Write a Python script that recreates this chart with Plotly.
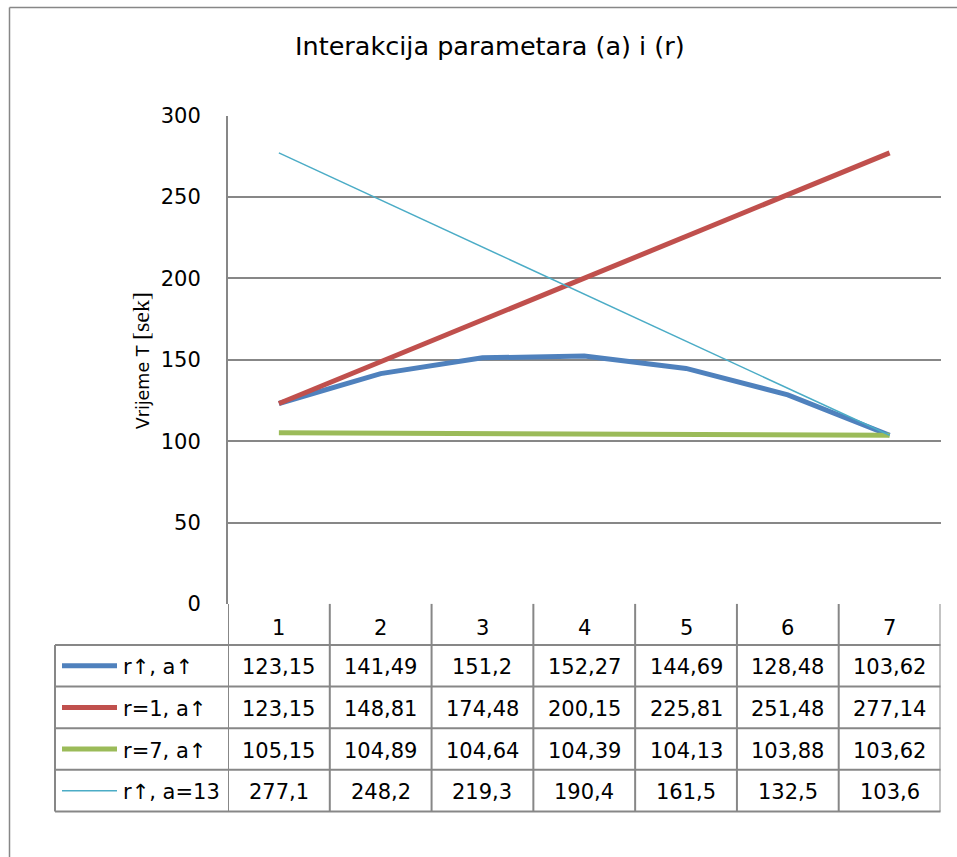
import plotly.graph_objects as go

W, H = 957, 857
# observed vertical mapping of the photographing step: screen_y = OFF + K * figure_y
OFF = 12.6
K = 0.97
HF = 872             # figure height in figure pixels

categories = [1, 2, 3, 4, 5, 6, 7]
series_names = ["r↑, a↑", "r=1, a↑", "r=7, a↑", "r↑, a=13"]
s_r_up_a_up = [123.15, 141.49, 151.2, 152.27, 144.69, 128.48, 103.62]
s_r1_a_up = [123.15, 148.81, 174.48, 200.15, 225.81, 251.48, 277.14]
s_r7_a_up = [105.15, 104.89, 104.64, 104.39, 104.13, 103.88, 103.62]
s_r_up_a13 = [277.1, 248.2, 219.3, 190.4, 161.5, 132.5, 103.6]
series_values = [s_r_up_a_up, s_r1_a_up, s_r7_a_up, s_r_up_a13]
colors = ["#4F81BD", "#C0504D", "#9BBB59", "#4BACC6"]
widths = [5, 5, 5, 1.5]
y_ticks = [0, 50, 100, 150, 200, 250, 300]

title_text = "Interakcija parametara (a) i (r)"
FONT = "DejaVu Sans"
GRID = "#878787"

PL, PR, PT, PB = 228, 940.5, 116, 603
ROW_TOP = 644
ROW_H = 41.5
LEG_L = 55


def px(x):
    return x / W


def py(y):
    return 1 - ((y - OFF) / K) / HF


fig = go.Figure()
for name, vals, c, w in zip(series_names, series_values, colors, widths):
    fig.add_trace(go.Scatter(x=categories, y=vals, mode="lines", name=name,
                             line=dict(color=c, width=w), showlegend=False))

shapes = []
line = dict(color=GRID, width=2)
shapes.append(dict(type="line", xref="paper", yref="paper", x0=px(9.5), x1=px(W + 5),
                   y0=py(8), y1=py(8), line=dict(color=GRID, width=1.5)))
shapes.append(dict(type="line", xref="paper", yref="paper", x0=px(9.5), x1=px(9.5),
                   y0=py(8), y1=-0.05, line=dict(color=GRID, width=1.5)))
n_rows = len(series_names)
for i in range(n_rows + 1):
    yy = ROW_TOP + i * ROW_H
    shapes.append(dict(type="line", xref="paper", yref="paper", x0=px(LEG_L), x1=px(PR),
                       y0=py(yy), y1=py(yy), line=line))
bottom = ROW_TOP + n_rows * ROW_H
shapes.append(dict(type="line", xref="paper", yref="paper", x0=px(LEG_L), x1=px(LEG_L),
                   y0=py(ROW_TOP), y1=py(bottom), line=line))
for k in range(len(categories) + 1):
    xb = categories[0] - 0.5 + k
    shapes.append(dict(type="line", xref="x", yref="paper", x0=xb, x1=xb,
                       y0=py(PB), y1=py(bottom), line=line))
for i, (c, w) in enumerate(zip(colors, widths)):
    yc = ROW_TOP + (i + 0.5) * ROW_H
    shapes.append(dict(type="line", xref="paper", yref="paper", x0=px(62), x1=px(117),
                       y0=py(yc), y1=py(yc), line=dict(color=c, width=w)))

annotations = []
annotations.append(dict(text=title_text, xref="paper", yref="paper", x=px(490), y=py(47),
                        showarrow=False, font=dict(family=FONT, size=25.5, color="#000"),
                        xanchor="center", yanchor="middle"))
annotations.append(dict(text="Vrijeme T <span style='font-family:Liberation Serif;font-size:24px'>[sek]</span>",
                        xref="paper", yref="paper", x=px(141), y=py(361),
                        showarrow=False, textangle=-90,
                        font=dict(family=FONT, size=17.5, color="#000"),
                        xanchor="center", yanchor="middle"))
for cat in categories:
    annotations.append(dict(text=str(cat), xref="x", yref="paper", x=cat,
                            y=py(627), showarrow=False,
                            font=dict(family=FONT, size=21, color="#000"),
                            xanchor="center", yanchor="middle"))
for i, (name, vals) in enumerate(zip(series_names, series_values)):
    yc = ROW_TOP + (i + 0.5) * ROW_H + 1.5
    annotations.append(dict(text=name, xref="paper", yref="paper", x=px(121), y=py(yc),
                            showarrow=False, font=dict(family=FONT, size=21, color="#000"),
                            xanchor="left", yanchor="middle"))
    for cat, v in zip(categories, vals):
        annotations.append(dict(text=str(v).replace(".", ","), xref="x", yref="paper",
                                x=cat, y=py(yc), showarrow=False,
                                font=dict(family=FONT, size=21, color="#000"),
                                xanchor="center", yanchor="middle"))

fig.update_layout(
    width=W, height=HF,
    margin=dict(l=0, r=0, t=0, b=0),
    paper_bgcolor="white", plot_bgcolor="white",
    shapes=shapes, annotations=annotations,
    xaxis=dict(domain=[px(PL), px(PR)], range=[0.5, 7.5], showticklabels=False,
               showgrid=False, zeroline=False, showline=False, fixedrange=True),
    yaxis=dict(domain=[py(PB), py(PT)], range=[0, 300], tickvals=y_ticks,
               showgrid=True, gridcolor=GRID, gridwidth=2, zeroline=False,
               showline=True, linecolor=GRID, linewidth=2,
               ticks="", ticklabelstandoff=21,
               tickfont=dict(family=FONT, size=21, color="#000")),
)

fig.write_html(
    "out.html",
    config={"displayModeBar": False},
    post_script="document.body.style.margin='0';document.body.style.padding='0';"
                "document.documentElement.style.overflow='hidden';",
)
